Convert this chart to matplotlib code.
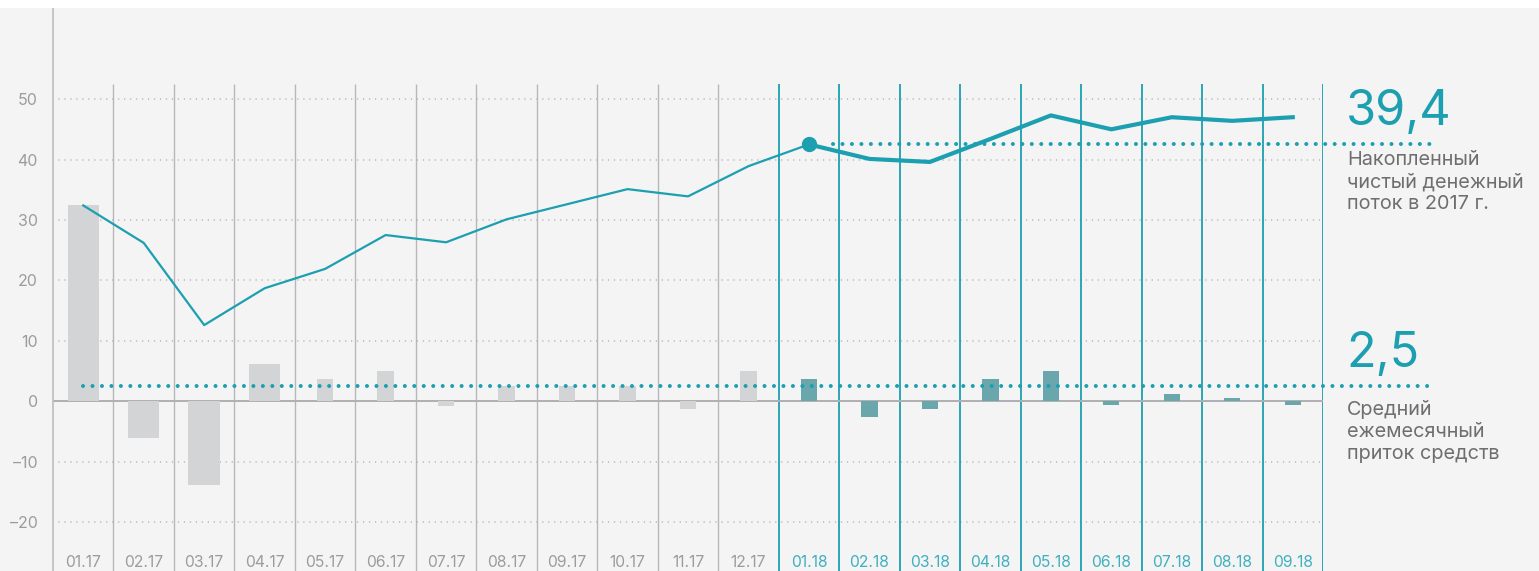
import matplotlib
matplotlib.use("Agg")
import matplotlib.pyplot as plt
from matplotlib.patches import Rectangle
import numpy as np

plt.rcParams['font.family'] = ['Inter', 'DejaVu Sans']

# данные
months = ['01.17', '02.17', '03.17', '04.17', '05.17', '06.17', '07.17', '08.17', '09.17',
          '10.17', '11.17', '12.17', '01.18', '02.18', '03.18', '04.18', '05.18', '06.18',
          '07.18', '08.18', '09.18']
monthly_flow = [32.4, -6.1, -13.9, 6.1, 3.6, 5.0, -0.8, 2.5, 2.5, 2.5, -1.3, 5.0,
                3.6, -2.6, -1.3, 3.6, 5.0, -0.7, 1.2, 0.6, -0.6]
cumulative = [32.4, 26.2, 12.6, 18.7, 21.9, 27.5, 26.3, 30.1, 32.6, 35.1, 33.9, 38.9,
              42.5, 40.1, 39.6, 43.4, 47.3, 45.0, 47.0, 46.4, 47.0]
avg_inflow = 2.5
total_2017 = 42.5
yticks = [50, 40, 30, 20, 10, 0, -10, -20]
ytick_labels = ['50', '40', '30', '20', '10', '0', '–10', '–20']

# цвета
bg = '#f4f4f4'
teal = '#1c9fb0'
teal_bar = '#6aa7ad'
gray_bar = '#d3d4d6'
gray_line = '#b7b7ba'
text_gray = '#9c9c9c'

fig = plt.figure(figsize=(15.39, 5.71), dpi=100, facecolor=bg)
fig.patches.append(Rectangle((0, 1 - 8 / 571), 1, 8 / 571, transform=fig.transFigure,
                             facecolor='white', edgecolor='none', zorder=0))

ax = fig.add_axes([53 / 1539, 0, (1323 - 53) / 1539, 1])
ax.set_facecolor('none')
ymin, ymax = -28.1, 66.4
ax.set_xlim(-0.5, 20.5)
ax.set_ylim(ymin, ymax)

n = len(months)
x = np.arange(n)
is18 = np.array([m.endswith('18') for m in months])

# сетка
for v in yticks:
    if v == 0:
        ax.axhline(0, color='#b0b0b2', lw=1.4, zorder=2)
    else:
        ax.axhline(v, color='#ababab', lw=1.1, ls=(0, (0.01, 3.9)),
                   dash_capstyle='round', zorder=1)

# вертикальные разделители
bounds = np.arange(n) + 0.5
for b in bounds:
    c = teal if b > 10.6 else gray_line
    ax.vlines(b, ymin, 52.5, color=c, lw=1.3 if b > 10.6 else 1.0, zorder=1)

# столбцы
widths = [0.52 if i < 4 else 0.27 for i in range(n)]
colors = [teal_bar if f else gray_bar for f in is18]
ax.bar(x, monthly_flow, width=widths, color=colors, zorder=3)

# средний приток и итог 2017
ax.plot([0, 22.3], [avg_inflow, avg_inflow], color=teal, lw=2.9,
        ls=(0, (0.01, 2.34)), dash_capstyle='round', zorder=4, clip_on=False)
ax.plot([12.4, 22.3], [total_2017, total_2017], color=teal, lw=2.9,
        ls=(0, (0.01, 2.34)), dash_capstyle='round', zorder=4, clip_on=False)

# накопленный поток
ax.plot(x[:13], cumulative[:13], color=teal, lw=1.6, zorder=5)
ax.plot(x[12:], cumulative[12:], color=teal, lw=3.0, zorder=5, solid_joinstyle='round')
ax.plot(x[12], cumulative[12], 'o', color=teal, ms=10, zorder=6)

# оси
for s in ['top', 'right', 'bottom']:
    ax.spines[s].set_visible(False)
ax.spines['left'].set_color('#bdbdbd')
ax.spines['left'].set_linewidth(1.2)
ax.set_xticks([])
ax.set_yticks(yticks)
ax.set_yticklabels(ytick_labels)
ax.tick_params(axis='y', length=0, pad=11, labelsize=11.5, labelcolor=text_gray)

for i, m in enumerate(months):
    ax.text(i, ymin + 0.15, m, ha='center', va='bottom', fontsize=11.3,
            color='#3fb0bf' if is18[i] else text_gray, zorder=6)

# подписи справа
ax.text(20.88, 47.9, '39,4', fontsize=35, color=teal, ha='left', va='center',
        clip_on=False)
ax.text(20.9, 41.4, 'Накопленный\nчистый денежный\nпоток в 2017 г.', fontsize=14.3,
        color='#6e6e6e', ha='left', va='top', linespacing=1.28, clip_on=False)
ax.text(20.88, 7.8, '2,5', fontsize=35, color=teal, ha='left', va='center',
        clip_on=False)
ax.text(20.9, 0.2, 'Средний\nежемесячный\nприток средств', fontsize=14.3,
        color='#6e6e6e', ha='left', va='top', linespacing=1.28, clip_on=False)

fig.savefig('out.png', dpi=100, facecolor=bg)
